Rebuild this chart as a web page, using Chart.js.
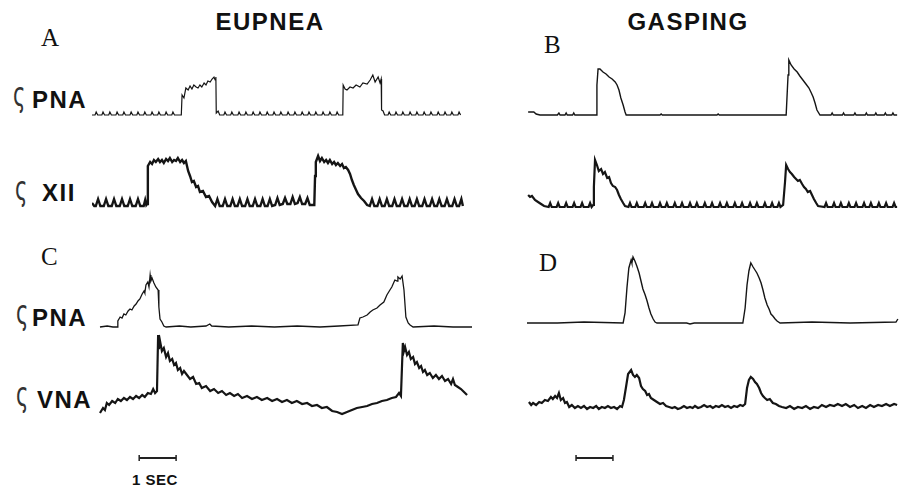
<!DOCTYPE html>
<html>
<head>
<meta charset="utf-8">
<script src="https://cdn.jsdelivr.net/npm/chart.js@4.4.1/dist/chart.umd.min.js"></script>
<style>
  body { margin: 0; background: #fff; width: 904px; height: 489px; overflow: hidden; position: relative; }
  canvas { position: absolute; }
  .t { position: absolute; color: #111; line-height: 1; transform: translateY(-50%); white-space: nowrap; }
  .head { font: bold 24px "Liberation Sans", Arial, sans-serif; letter-spacing: 1.5px; transform: translate(-50%, -50%); }
  .panel { font: 25px "Liberation Serif", "Times New Roman", serif; }
  .sig { font: 34px "DejaVu Sans", sans-serif; color: #333; transform-origin: left center; transform: translateY(-50%) scaleX(0.62); }
  .name { font: bold 24px "Liberation Sans", Arial, sans-serif; letter-spacing: 1.5px; }
  .sec { font: bold 15px "Liberation Sans", Arial, sans-serif; letter-spacing: 0.5px; transform: translate(-50%, -50%); }
</style>
</head>
<body>
<div class="t head" style="left:270px;top:22px">EUPNEA</div>
<div class="t head" style="left:688px;top:22px">GASPING</div>
<div class="t panel" style="left:41px;top:38px">A</div>
<div class="t panel" style="left:544px;top:45px">B</div>
<div class="t panel" style="left:41px;top:257px">C</div>
<div class="t panel" style="left:539px;top:263px">D</div>
<div class="t sig" style="left:13px;top:94px">ς</div>
<div class="t name" style="left:32px;top:100px">PNA</div>
<div class="t sig" style="left:15px;top:188px">ς</div>
<div class="t name" style="left:42px;top:193px">XII</div>
<div class="t sig" style="left:16px;top:312px">ς</div>
<div class="t name" style="left:32px;top:318px">PNA</div>
<div class="t sig" style="left:16px;top:394px">ς</div>
<div class="t name" style="left:37px;top:400px">VNA</div>
<div class="t sec" style="left:155px;top:479px">1 SEC</div>

<script>
// time in seconds, amplitude in arbitrary units (0 = resting baseline)

// A: eupnea, phrenic
const pnaA = [[0,0],
  [0.08,0],[0.11,3],[0.15,0],[0.26,0],[0.29,3],[0.33,0],[0.44,0],[0.47,3],[0.51,0],
  [0.63,0],[0.66,3],[0.70,0],[0.81,0],[0.84,3],[0.88,0],[1.00,0],[1.03,3],[1.07,0],
  [1.18,0],[1.21,3],[1.25,0],[1.36,0],[1.39,3],[1.43,0],[1.55,0],[1.58,3],[1.62,0],
  [1.73,0],[1.76,3],[1.80,0],[1.92,0],[1.95,3],[1.99,0],[2.10,0],[2.13,3],[2.17,0],[2.35,0],
  [2.37,20],[2.42,17],[2.47,27],[2.53,25],[2.58,29],[2.63,26],[2.68,30],[2.74,28],[2.79,27],
  [2.84,30],[2.89,28],[2.95,32],[3.00,30],[3.05,34],[3.11,33],[3.16,36],[3.21,38],[3.24,35],
  [3.26,38],[3.27,2],[3.32,4],[3.36,0],
  [3.47,0],[3.50,3],[3.54,0],[3.65,0],[3.68,3],[3.72,0],[3.84,0],[3.87,3],[3.91,0],
  [4.02,0],[4.05,3],[4.09,0],[4.21,0],[4.24,3],[4.28,0],[4.39,0],[4.42,3],[4.46,0],
  [4.58,0],[4.61,3],[4.65,0],[4.76,0],[4.79,3],[4.83,0],[4.94,0],[4.97,3],[5.01,0],
  [5.13,0],[5.16,3],[5.20,0],[5.31,0],[5.34,3],[5.38,0],[5.50,0],[5.53,3],[5.57,0],
  [5.68,0],[5.71,3],[5.75,0],[5.86,0],[5.89,3],[5.93,0],[6.05,0],[6.08,3],[6.12,0],
  [6.23,0],[6.26,3],[6.30,0],[6.42,0],[6.45,3],[6.49,0],[6.60,0],
  [6.61,30],[6.66,26],[6.71,25],[6.79,28],[6.87,27],[6.95,30],[7.05,28],[7.13,32],[7.24,31],
  [7.32,35],[7.39,40],[7.45,33],[7.53,38],[7.58,32],[7.61,36],[7.62,5],[7.66,4],[7.70,0],
  [7.79,0],[7.82,3],[7.86,0],[7.97,0],[8.00,3],[8.04,0],[8.15,0],[8.18,3],[8.22,0],
  [8.34,0],[8.37,3],[8.41,0],[8.52,0],[8.55,3],[8.59,0],[8.71,0],[8.74,3],[8.78,0],
  [8.89,0],[8.92,3],[8.96,0],[9.08,0],[9.11,3],[9.15,0],[9.26,0],[9.29,3],[9.33,0],
  [9.44,0],[9.47,3],[9.51,0],[9.63,0],[9.66,3],[9.70,0]];

// A: eupnea, hypoglossal
const xiiA = [[0,3],[0.06,0],
  [0.10,0],[0.16,7],[0.22,0],[0.31,0],[0.37,7],[0.43,0],[0.52,0],[0.58,7],[0.64,0],
  [0.73,0],[0.79,7],[0.85,0],[0.94,0],[1.00,7],[1.06,0],[1.15,0],[1.21,7],[1.27,0],
  [1.36,0],[1.40,6],[1.43,1],
  [1.45,2],[1.47,40],[1.53,44],[1.58,42],[1.63,46],[1.68,44],[1.74,47],[1.79,44],[1.84,46],
  [1.89,43],[1.95,47],[2.00,45],[2.05,48],[2.11,44],[2.16,46],[2.21,45],[2.26,48],[2.32,44],
  [2.37,46],[2.42,43],[2.47,45],[2.53,35],[2.58,30],[2.63,24],[2.68,25],[2.74,19],[2.79,20],
  [2.84,14],[2.92,15],[3.00,9],[3.08,10],[3.16,4],[3.22,1],
  [3.24,0],[3.30,7],[3.36,0],[3.44,0],[3.50,7],[3.56,0],[3.64,0],[3.70,7],[3.76,0],
  [3.83,0],[3.89,7],[3.95,0],[4.03,0],[4.09,7],[4.15,0],[4.23,0],[4.29,7],[4.35,0],
  [4.43,0],[4.49,7],[4.55,0],[4.62,0],[4.68,7],[4.74,0],[4.82,1],[4.88,8],[4.94,1],
  [5.02,2],[5.08,8],[5.14,2],[5.22,2],[5.28,9],[5.34,2],[5.41,3],[5.47,9],[5.53,2],
  [5.61,2],[5.67,8],[5.73,1],[5.85,1],
  [5.87,30],[5.89,44],[5.95,50],[6.00,45],[6.05,48],[6.11,44],[6.16,46],[6.21,43],[6.26,46],
  [6.32,42],[6.37,44],[6.42,41],[6.47,43],[6.53,40],[6.58,42],[6.63,38],[6.68,39],[6.74,36],
  [6.79,32],[6.84,26],[6.89,21],[6.95,16],[7.00,12],[7.08,8],[7.16,5],[7.24,1],
  [7.31,0],[7.37,7],[7.43,0],[7.51,0],[7.57,7],[7.63,0],[7.70,0],[7.76,7],[7.82,0],
  [7.90,0],[7.96,7],[8.02,0],[8.10,0],[8.16,7],[8.22,0],[8.30,0],[8.36,7],[8.42,0],
  [8.49,0],[8.55,7],[8.61,0],[8.69,0],[8.75,7],[8.81,0],[8.89,0],[8.95,7],[9.01,0],
  [9.08,0],[9.14,7],[9.20,0],[9.28,0],[9.34,7],[9.40,0],[9.48,0],[9.54,7],[9.60,0],
  [9.66,0],[9.72,7],[9.76,0]];

// B: gasping, phrenic
const pnaB = [[0.03,3],[0.18,3],[0.24,1],[0.34,0],[0.80,0],[0.84,2],[0.87,0],[1.00,0],[1.03,2],
  [1.06,0],[1.20,0],[1.23,2],[1.26,0],[1.82,0],
  [1.84,30],[1.87,46],[1.92,46],[2.00,43],[2.08,41],[2.16,38],[2.24,36],[2.32,33],[2.37,30],
  [2.42,25],[2.47,17],[2.53,10],[2.58,3],[2.61,0],
  [3.50,0],[3.53,1],[3.56,0],[5.00,0],[5.03,1],[5.06,0],[6.82,0],
  [6.87,40],[6.89,55],[6.95,50],[7.03,46],[7.11,43],[7.18,39],[7.26,35],[7.34,31],[7.42,27],
  [7.47,23],[7.53,18],[7.58,12],[7.63,5],[7.71,0],
  [8.00,0],[8.03,2],[8.06,0],[8.30,0],[8.33,2],[8.36,0],[8.60,0],[8.63,2],[8.66,0],
  [8.90,0],[8.93,2],[8.96,0],[9.15,0],[9.18,2],[9.21,0],[9.40,0],[9.43,2],[9.46,0],
  [9.60,0],[9.63,2],[9.66,0],[9.74,0]];

// B: gasping, hypoglossal
const xiiB = [[0.03,12],[0.08,10],[0.13,11],[0.21,7],[0.29,5],[0.37,3],[0.45,1],
  [0.57,0],[0.61,4],[0.65,0],[0.78,0],[0.82,4],[0.86,0],[0.99,0],[1.03,4],[1.07,0],
  [1.20,0],[1.24,4],[1.28,0],[1.41,0],[1.45,4],[1.49,0],[1.62,0],[1.66,4],[1.70,0],
  [1.74,2],[1.76,20],[1.79,47],[1.84,42],[1.89,36],[1.95,38],[2.00,33],[2.05,35],[2.11,29],
  [2.16,30],[2.21,24],[2.26,21],[2.32,20],[2.37,17],[2.42,12],[2.47,8],[2.53,4],[2.58,1],
  [2.67,0],[2.71,4],[2.75,0],[2.85,0],[2.89,4],[2.93,0],[3.07,0],[3.11,4],[3.15,0],
  [3.25,0],[3.29,4],[3.33,0],[3.46,0],[3.50,4],[3.54,0],[3.64,0],[3.68,4],[3.72,0],
  [3.85,0],[3.89,4],[3.93,0],[4.04,0],[4.08,4],[4.12,0],[4.25,0],[4.29,4],[4.33,0],
  [4.43,0],[4.47,4],[4.51,0],[4.64,0],[4.68,4],[4.72,0],[4.83,0],[4.87,4],[4.91,0],
  [5.04,0],[5.08,4],[5.12,0],[5.22,0],[5.26,4],[5.30,0],[5.43,0],[5.47,4],[5.51,0],
  [5.62,0],[5.66,4],[5.70,0],[5.83,0],[5.87,4],[5.91,0],[6.01,0],[6.05,4],[6.09,0],
  [6.22,0],[6.26,4],[6.30,0],[6.41,0],[6.45,4],[6.49,0],[6.59,0],[6.63,4],[6.67,0],
  [6.74,2],[6.79,25],[6.82,42],[6.87,38],[6.92,35],[6.97,33],[7.03,30],[7.08,28],[7.13,26],
  [7.18,27],[7.24,23],[7.29,20],[7.34,18],[7.39,15],[7.45,16],[7.50,12],[7.55,8],[7.61,4],[7.66,1],
  [7.83,0],[7.87,4],[7.91,0],[8.04,0],[8.08,4],[8.12,0],[8.22,0],[8.26,4],[8.30,0],
  [8.43,0],[8.47,4],[8.51,0],[8.62,0],[8.66,4],[8.70,0],[8.83,0],[8.87,4],[8.91,0],
  [9.01,0],[9.05,4],[9.09,0],[9.22,0],[9.26,4],[9.30,0],[9.41,0],[9.45,4],[9.49,0],
  [9.62,0],[9.66,4],[9.70,0],[9.74,0]];

// C: eupnea, phrenic
const pnaC = [[0.21,0],[0.40,1],[0.55,0],[0.66,0],[0.68,6],[0.74,10],[0.79,9],[0.84,13],[0.89,12],
  [0.95,16],[1.00,18],[1.05,17],[1.11,21],[1.16,23],[1.21,26],[1.26,28],[1.32,33],[1.37,36],
  [1.39,34],[1.42,42],[1.47,45],[1.50,40],[1.53,52],[1.55,46],[1.58,49],[1.63,44],[1.68,40],
  [1.74,37],[1.76,20],[1.79,8],[1.84,5],[1.89,1],[1.95,0],[2.30,1],[2.60,0],[3.00,1],[3.10,3],
  [3.15,1],[3.60,0],[4.20,1],[4.80,0],[5.40,1],[6.00,0],[6.50,1],[7.00,2],[7.05,9],[7.13,10],
  [7.24,12],[7.32,15],[7.39,17],[7.50,19],[7.58,22],[7.68,25],[7.76,32],[7.84,37],[7.89,40],
  [7.97,47],[8.03,46],[8.05,50],[8.11,48],[8.16,51],[8.21,37],[8.26,10],[8.32,4],[8.37,2],
  [8.45,0],[9.00,1],[9.50,0],[10.0,0]];

// C: eupnea, vagal
const vnaC = [[0.21,0],[0.29,5],[0.34,3],[0.39,10],[0.45,8],[0.53,12],[0.61,10],[0.68,14],[0.76,12],
  [0.84,15],[0.92,13],[1.00,16],[1.08,14],[1.16,17],[1.24,15],[1.32,18],[1.39,16],[1.47,20],
  [1.55,19],[1.61,24],[1.66,20],[1.71,22],[1.74,78],[1.76,64],[1.79,72],[1.84,62],[1.89,65],
  [1.95,56],[2.00,60],[2.05,52],[2.11,54],[2.16,48],[2.21,50],[2.26,43],[2.32,45],[2.37,39],
  [2.42,42],[2.50,38],[2.58,34],[2.66,36],[2.74,29],[2.82,30],[2.89,25],[3.00,27],[3.11,22],
  [3.21,24],[3.32,20],[3.42,22],[3.53,18],[3.63,20],[3.74,17],[3.84,19],[3.95,15],[4.08,17],
  [4.21,14],[4.34,16],[4.47,13],[4.61,15],[4.74,12],[4.87,14],[5.00,11],[5.13,13],[5.26,10],
  [5.39,12],[5.53,9],[5.66,10],[5.79,7],[5.92,8],[6.05,5],[6.18,6],[6.32,2],[6.45,1],[6.58,-1],
  [6.71,1],[6.84,3],[6.97,5],[7.11,6],[7.24,7],[7.37,9],[7.50,10],[7.63,12],[7.76,13],[7.89,15],
  [8.00,16],[8.08,20],[8.13,17],[8.18,70],[8.21,62],[8.24,66],[8.29,58],[8.34,61],[8.39,54],
  [8.45,56],[8.50,49],[8.55,51],[8.61,45],[8.66,47],[8.71,41],[8.76,43],[8.82,38],[8.89,40],
  [8.97,35],[9.05,38],[9.13,34],[9.21,37],[9.29,32],[9.37,34],[9.45,29],[9.50,34],[9.55,28],
  [9.63,26],[9.71,24],[9.79,21],[9.87,18]];

// D: gasping, phrenic
const pnaD = [[0,0],[0.80,0],[1.50,1],[2.53,0],[2.58,10],[2.63,35],[2.68,55],[2.74,63],[2.76,60],
  [2.79,66],[2.84,62],[2.89,57],[2.95,50],[3.00,42],[3.05,34],[3.11,28],[3.16,22],[3.21,15],
  [3.26,9],[3.32,4],[3.37,1],[3.42,0],[4.20,0],[4.29,-1],[4.40,0],[5.68,0],[5.74,15],[5.79,38],
  [5.84,52],[5.89,60],[5.95,56],[6.00,53],[6.05,50],[6.11,45],[6.16,40],[6.21,33],[6.26,25],
  [6.32,18],[6.37,14],[6.42,9],[6.47,7],[6.53,4],[6.58,2],[6.66,0],[7.50,1],[8.50,0],[9.71,1],[9.76,4]];

// D: gasping, vagal
const vnaD = [[0.05,6],[0.11,3],[0.16,5],[0.24,3],[0.32,6],[0.39,5],[0.47,8],[0.55,7],[0.63,11],
  [0.68,9],[0.74,12],[0.79,10],[0.84,15],[0.89,8],[0.95,10],[1.00,5],[1.05,6],[1.11,1],[1.18,3],
  [1.26,0],[1.34,2],[1.42,0],[1.50,2],[1.58,-1],[1.66,1],[1.74,0],[1.82,2],[1.89,-1],[1.97,1],
  [2.05,0],[2.13,2],[2.21,0],[2.29,1],[2.37,-1],[2.45,2],[2.50,1],[2.55,8],[2.61,22],[2.66,34],
  [2.74,38],[2.79,33],[2.84,31],[2.89,33],[2.95,30],[3.00,22],[3.05,19],[3.11,17],[3.16,13],
  [3.21,14],[3.26,10],[3.34,8],[3.42,6],[3.50,4],[3.58,5],[3.66,2],[3.74,1],[3.82,0],[3.89,1],
  [3.97,-1],[4.05,0],[4.13,2],[4.21,0],[4.29,1],[4.36,0],[4.42,2],[4.50,0],[4.58,1],[4.66,3],
  [4.74,1],[4.82,2],[4.89,0],[4.97,2],[5.05,1],[5.13,3],[5.21,1],[5.29,2],[5.37,0],[5.45,2],
  [5.53,1],[5.61,3],[5.68,2],[5.74,4],[5.79,20],[5.84,28],[5.89,31],[5.95,29],[6.00,26],
  [6.05,24],[6.11,20],[6.16,15],[6.21,12],[6.26,10],[6.32,8],[6.39,9],[6.47,5],[6.55,4],
  [6.63,2],[6.71,1],[6.82,0],[6.92,2],[7.03,-1],[7.13,1],[7.24,0],[7.34,2],[7.45,-1],[7.55,1],
  [7.66,0],[7.76,3],[7.87,1],[7.97,3],[8.08,2],[8.18,4],[8.29,2],[8.39,4],[8.50,1],[8.61,3],
  [8.71,0],[8.82,2],[8.92,0],[9.03,3],[9.13,1],[9.24,3],[9.34,2],[9.45,4],[9.55,2],[9.66,4],[9.74,3]];

// 1 s calibration bars
const barLeft = [[1.13,0],[2.13,0]];
const barRight = [[1.18,0],[2.18,0]];

const traces = [
  { data: pnaA, left: 92,  top: 25,  lw: 1.2 },
  { data: xiiA, left: 92,  top: 116, lw: 2.4 },
  { data: pnaC, left: 92,  top: 237, lw: 1.3 },
  { data: vnaC, left: 92,  top: 323, lw: 2.2 },
  { data: pnaB, left: 527, top: 25,  lw: 1.4 },
  { data: xiiB, left: 527, top: 117, lw: 2.2 },
  { data: pnaD, left: 527, top: 233, lw: 1.4 },
  { data: vnaD, left: 527, top: 318, lw: 2.2 },
];

function addCanvas(left, top, w, h) {
  const c = document.createElement("canvas");
  c.width = w; c.height = h;
  c.style.left = left + "px"; c.style.top = top + "px";
  document.body.appendChild(c);
  return c.getContext("2d");
}

function makeChart(ctx, datasets, ymin, ymax) {
  return new Chart(ctx, {
    type: "line",
    data: { datasets },
    options: {
      responsive: false,
      animation: false,
      layout: { padding: 0 },
      plugins: { legend: { display: false }, tooltip: { enabled: false } },
      scales: {
        x: { type: "linear", min: 0, max: 10, display: false },
        y: { min: ymin, max: ymax, display: false },
      },
    },
  });
}

traces.forEach(function (tr) {
  const ctx = addCanvas(tr.left, tr.top, 380, 100);
  makeChart(ctx, [{
    data: tr.data,
    borderColor: "#151515",
    borderWidth: tr.lw,
    pointRadius: 0,
    tension: 0,
    clip: false,
  }], -10, 90);
});

[[barLeft, 92], [barRight, 527]].forEach(function (b) {
  const ctx = addCanvas(b[1], 448, 380, 20);
  makeChart(ctx, [{
    data: b[0],
    borderColor: "#222",
    borderWidth: 2,
    pointStyle: "line",
    rotation: 90,
    pointRadius: 3,
    pointBorderWidth: 1.5,
    pointBorderColor: "#222",
    clip: false,
  }], -10, 10);
});
</script>
</body>
</html>
